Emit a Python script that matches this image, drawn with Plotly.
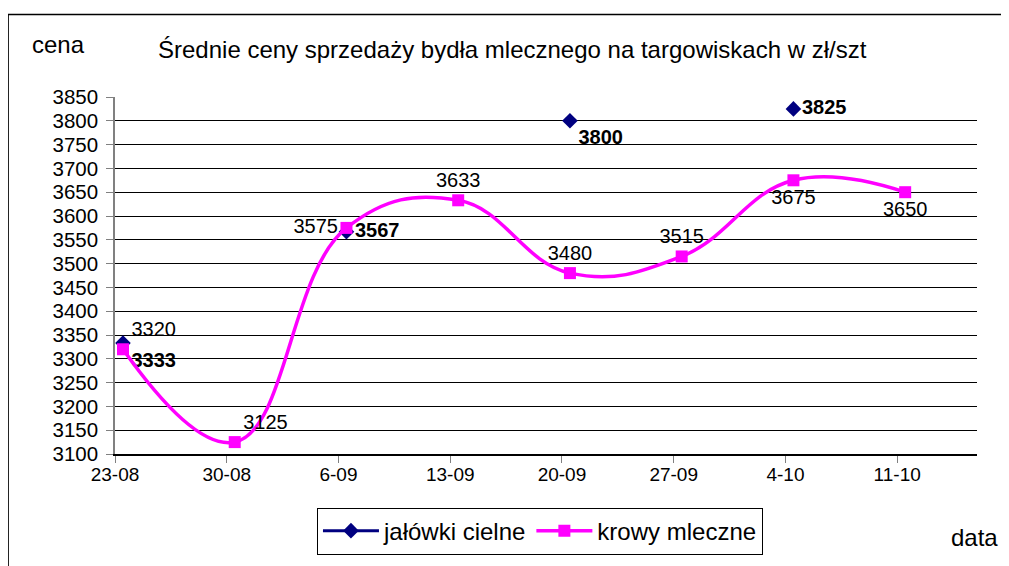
import pandas as pd
import plotly.graph_objects as go

# dates of the weekly readings (day-month); the year is not shown on the chart
dates = ["2007-08-23", "2007-08-30", "2007-09-06", "2007-09-13",
         "2007-09-20", "2007-09-27", "2007-10-04", "2007-10-11"]
tick_labels = ["23-08", "30-08", "6-09", "13-09", "20-09", "27-09", "4-10", "11-10"]

jalowki = [3333, None, 3567, None, 3800, None, 3825, None]
krowy = [3320, 3125, 3575, 3633, 3480, 3515, 3675, 3650]

FONT = "Liberation Sans, Arial, sans-serif"

# Excel date axis: ticks at the start of the day, points in the middle of it
ticks = [d - pd.Timedelta(hours=12) for d in pd.to_datetime(dates)]
x_start = ticks[0]
x_end = x_start + pd.Timedelta(days=54)

fig = go.Figure()

fig.add_trace(go.Scatter(
    x=dates, y=jalowki,
    mode="lines+markers+text",
    name="jałówki cielne",
    line=dict(color="#000080", width=3),
    marker=dict(symbol="diamond", size=12, color="#000080"),
    text=[str(v) if v is not None else "" for v in jalowki],
    textposition=["bottom right", "top center", "middle right", "top center",
                  "bottom right", "top center", "middle right", "top center"],
    textfont=dict(family=FONT, size=20, color="black", weight="bold"),
    connectgaps=False,
))

fig.add_trace(go.Scatter(
    x=dates, y=krowy,
    mode="lines+markers+text",
    name="krowy mleczne",
    line=dict(color="#FF00FF", width=3.5, shape="spline", smoothing=1.2),
    marker=dict(symbol="square", size=12, color="#FF00FF"),
    text=[str(v) for v in krowy],
    textposition=["top right", "top right", "middle left", "top center",
                  "top center", "top center", "bottom center", "bottom center"],
    textfont=dict(family=FONT, size=20, color="black"),
))

# the page body adds an 8 px offset, so the figure is 8 px smaller and shifted
fig.update_layout(
    width=1001, height=558,
    margin=dict(l=107, r=32, t=89, b=106),
    paper_bgcolor="white",
    plot_bgcolor="white",
    font=dict(family=FONT, size=20, color="black"),
    showlegend=True,
    legend=dict(
        orientation="h",
        x=0.493, xanchor="center",
        y=-0.15, yanchor="top",
        bordercolor="black", borderwidth=1,
        font=dict(size=24),
        itemwidth=56,
        tracegroupgap=0,
    ),
    annotations=[
        dict(text="Średnie ceny sprzedaży bydła mlecznego na targowiskach w zł/szt",
             xref="paper", yref="paper", x=0.461, y=1.132, xanchor="center", yanchor="middle",
             showarrow=False, font=dict(size=24)),
        dict(text="cena", xref="paper", yref="paper", x=-0.099, y=1.146,
             xanchor="left", yanchor="middle", showarrow=False, font=dict(size=24)),
        dict(text="data", xref="paper", yref="paper", x=1.027, y=-0.234,
             xanchor="right", yanchor="middle", showarrow=False, font=dict(size=24)),
    ],
    shapes=[
        dict(type="rect", xref="paper", yref="paper",
             x0=-0.124, y0=-0.6, x1=1.2, y1=1.231,
             line=dict(color="black", width=1.5), fillcolor="rgba(0,0,0,0)"),
    ],
)

fig.update_xaxes(
    type="date",
    range=[x_start, x_end],
    tickvals=ticks,
    ticktext=tick_labels,
    showgrid=False,
    showline=True, linecolor="black", linewidth=1.5,
    ticks="outside", ticklen=7, tickcolor="#808080",
    tickfont=dict(size=19),
    ticklabelstandoff=-5,
    zeroline=False,
)

fig.update_yaxes(
    range=[3100, 3850],
    dtick=50,
    showgrid=True, gridcolor="black", gridwidth=1,
    showline=True, linecolor="#808080", linewidth=1.5,
    ticks="outside", ticklen=7, tickcolor="#808080",
    tickfont=dict(size=20.5),
    ticklabelstandoff=4,
    zeroline=False,
)

fig.write_html("out.html")
